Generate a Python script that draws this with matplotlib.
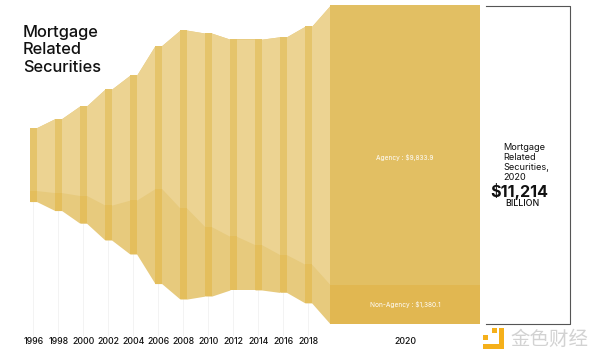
"""Mortgage related securities outstanding, agency vs non-agency, as a centred stream."""
import matplotlib
matplotlib.use("Agg")
import matplotlib.pyplot as plt
from matplotlib.patches import Rectangle
from matplotlib.transforms import Affine2D
import numpy as np

# $ billion
years = [1996, 1998, 2000, 2002, 2004, 2006, 2008, 2010, 2012, 2014, 2016, 2018, 2020]
agency = [2220, 2608, 3161, 4088, 4405, 5039, 6273, 6826, 6949, 7242, 7682, 8387, 9833.9]
non_agency = [388, 634, 980, 1233, 1903, 3348, 3207, 2442, 1889, 1596, 1329, 1364, 1380.1]
year_labels = ["1996", "1998", "2000", "2002", "2004", "2006", "2008", "2010", "2012",
               "2014", "2016", "2018", "2020"]

PX_PER_YEAR = 12.5
BILLION_PER_PX = 35.24
BAR_W = 6.7 / PX_PER_YEAR
LAST_W = 150 / PX_PER_YEAR

AG_LIGHT, AG_BAR, AG_LAST = "#ecd392", "#e5c46b", "#e2bf63"
NA_LIGHT, NA_BAR, NA_LAST = "#e7ca7d", "#e4be5c", "#e1b751"
FONT = ["Inter", "DejaVu Sans"]

plt.rcParams["font.family"] = FONT


def main() -> None:
    fig = plt.figure(figsize=(6, 3.6), dpi=100)
    ax = fig.add_axes([0, 0, 1, 1])
    ax.set_xlim(1996 - 30 / PX_PER_YEAR, 1996 + 570 / PX_PER_YEAR)
    ax.set_ylim(-195.4 * BILLION_PER_PX, 164.6 * BILLION_PER_PX)
    ax.axis("off")
    # annotations are placed in reference pixels, origin top left
    px = Affine2D().scale(1 / 600, -1 / 360).translate(0, 1) + fig.transFigure

    yrs = np.array(years, dtype=float)
    ag = np.array(agency)
    na = np.array(non_agency)
    top = (ag + na) / 2
    mid = top - ag
    bottom = -top

    # faint drop lines from the band to the year labels
    for yr, b in zip(yrs[:-1], bottom[:-1]):
        ax.plot([yr + BAR_W / 2] * 2, [b, -170 * BILLION_PER_PX], color="#f3f3f3", lw=0.7, zorder=1)

    # ribbons start under each bar so no white seam shows at the joins
    for i in range(len(yrs) - 1):
        xs = [yrs[i], yrs[i] + BAR_W, yrs[i + 1]]
        t = [top[i], top[i], top[i + 1]]
        m = [mid[i], mid[i], mid[i + 1]]
        b = [bottom[i], bottom[i], bottom[i + 1]]
        ax.fill_between(xs, b, t, color=NA_LIGHT, lw=0, zorder=2)
        ax.fill_between(xs, m, t, color=AG_LIGHT, lw=0, zorder=2)

    ax.bar(yrs[:-1], top[:-1] - bottom[:-1], bottom=bottom[:-1], width=BAR_W, align="edge", color=NA_BAR, lw=0, zorder=3)
    ax.bar(yrs[:-1], ag[:-1], bottom=mid[:-1], width=BAR_W, align="edge", color=AG_BAR, lw=0, zorder=3)
    ax.bar(yrs[-1], ag[-1] + na[-1], bottom=bottom[-1], width=LAST_W, align="edge", color=NA_LAST, lw=0, zorder=3)
    ax.bar(yrs[-1], ag[-1], bottom=mid[-1], width=LAST_W, align="edge", color=AG_LAST, lw=0, zorder=3)

    ax.text(405, 157.5, f"Agency : ${agency[-1]:,.1f}", transform=px, color="white",
            fontsize=4.7, ha="center", va="center", zorder=4)
    ax.text(405, 305, f"Non-Agency : ${non_agency[-1]:,.1f}", transform=px, color="white",
            fontsize=4.7, ha="center", va="center", zorder=4)

    mid_last = yrs[-1] + LAST_W / 2
    for i, (yr, lab) in enumerate(zip(yrs, year_labels)):
        x = mid_last if i == len(yrs) - 1 else yr + BAR_W / 2
        ax.text(x, -176.4 * BILLION_PER_PX, lab, color="#111111", fontsize=6.3, fontweight="medium",
                ha="center", va="center")

    for line, y in zip(["Mortgage", "Related", "Securities"], [32, 50, 68]):
        ax.text(23, y, line, transform=px, fontsize=11.8, fontweight="medium", color="#111111",
                ha="left", va="center")

    # summary box, open on the left side
    ax.plot([486, 570, 570, 486], [6, 6, 324, 324], transform=px, color="#555555", lw=0.8)
    for line, y in zip(["Mortgage", "Related", "Securities,", "2020"], [147, 157, 167, 177]):
        ax.text(503, y, line, transform=px, fontsize=6.6, color="#111111", ha="left", va="center")
    ax.text(519.5, 192, "$11,214", transform=px, fontsize=11.6, fontweight="bold", color="#111111",
            ha="center", va="center")
    ax.text(522, 204, "BILLION", transform=px, fontsize=6.4, fontweight="medium", color="#111111",
            ha="center", va="center")

    # watermark
    for x, y, w, h in [(492, 328, 5, 5), (499, 328, 5, 21), (483, 344, 21, 5), (483, 335, 5, 5)]:
        ax.add_patch(Rectangle((x, y), w, h, transform=px, color="#f5b01a", lw=0, zorder=5))
    ax.text(549, 339, "金色财经", transform=px, fontsize=14, color="#d2d2d2", ha="center", va="center",
            family=["Noto Sans CJK SC", "DejaVu Sans"])

    fig.savefig("out.png", dpi=100)


if __name__ == "__main__":
    main()
